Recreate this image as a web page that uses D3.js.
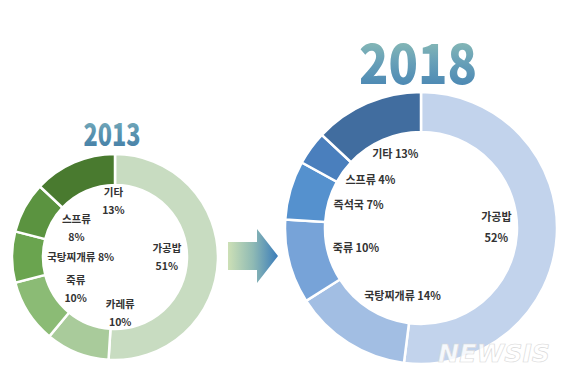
<!DOCTYPE html>
<head>
    <meta charset="utf-8">
    <style> body { margin: 0; background: #fff; } </style>
    <script src="https://d3js.org/d3.v7.min.js"></script>
</head>
<body>
<div id="chart"></div>
<script>

    // data
    var cats2013 = ["가공밥", "카레류", "죽류", "국탕찌개류", "스프류", "기타"];
    var vals2013 = [51, 10, 10, 8, 8, 13];
    var stack2013 = [true, true, true, false, true, true];

    var cats2018 = ["가공밥", "국탕찌개류", "죽류", "즉석국", "스프류", "기타"];
    var vals2018 = [52, 14, 10, 7, 4, 13];
    var stack2018 = [true, false, false, false, false, false];

    var years = ["2013", "2018"];

    // styles
    var greens = ["#c8dcc1", "#a9cb9b", "#8bbb75", "#6aa44f", "#5b9340", "#497a2f"];
    var blues = ["#c2d3ec", "#a2bee3", "#77a3d8", "#5591ce", "#4a7fbd", "#416d9f"];

    var W = 570, H = 380;

    var svg = d3.select("#chart").append("svg")
        .attr("width", W)
        .attr("height", H);

    var defs = svg.append("defs");

    function grad(id, stops, horiz) {
        var g = defs.append("linearGradient").attr("id", id)
            .attr("x1", 0).attr("y1", 0)
            .attr("x2", horiz ? 1 : 0).attr("y2", horiz ? 0 : 1);
        stops.forEach(function(s, i) {
            g.append("stop").attr("offset", (i / (stops.length - 1) * 100) + "%").attr("stop-color", s);
        });
    }
    grad("t13", ["#8cbcc2", "#5a94b0", "#3f78a4"], false);
    grad("t18", ["#a4d0b2", "#6aa2b8", "#3c7bb2"], false);
    grad("arr", ["#cde0b6", "#8fbab4", "#3a7cba"], true);

    function donut(cats, vals, stack, cols, cx, cy, R, r, year, titleSize, titleLen, fs, lineGap) {

        var g = svg.append("g").attr("transform", "translate(" + cx + "," + cy + ")");

        var pie = d3.pie().sort(null).value(function(d) { return d; });
        var arcs = pie(vals);

        var arc = d3.arc().innerRadius(r).outerRadius(R);

        g.selectAll("path.slice")
            .data(arcs)
            .enter()
            .append("path")
            .attr("class", "slice")
            .attr("d", arc)
            .attr("fill", function(d, i) { return cols[i]; })
            .attr("stroke", "#fff")
            .attr("stroke-width", 2.5);

        var lr = r * 0.84;

        arcs.forEach(function(d, i) {
            var a = Math.min((d.startAngle + d.endAngle) / 2, d.startAngle + Math.PI / 2);
            var x = lr * Math.sin(a), y = -lr * Math.cos(a);

            var t = g.append("text")
                .attr("text-anchor", "middle")
                .attr("font-family", "'Noto Sans CJK KR', 'Noto Sans', sans-serif")
                .attr("font-weight", "bold")
                .attr("font-size", fs)
                .attr("fill", "#333");

            var lines = stack[i] ? [cats[i], vals[i] + "%"] : [cats[i] + " " + vals[i] + "%"];
            lines.forEach(function(l, k) {
                t.append("tspan")
                    .attr("x", 0)
                    .attr("dy", k == 0 ? (-(lines.length - 1) * lineGap / 2 + fs * 0.35) : lineGap)
                    .text(l);
            });

            // keep the label inside the hole
            var bb = t.node().getBBox();
            var yy = Math.abs(y) + bb.height / 2 - 2;
            var lim = Math.sqrt(Math.max(r * r - yy * yy, 0)) - 4;
            if (Math.abs(x) + bb.width / 2 > lim) {
                x = Math.sign(x) * (lim - bb.width / 2);
            }
            t.attr("transform", "translate(" + x + "," + y + ")");
        });

        svg.append("text")
            .attr("x", cx - 3)
            .attr("y", cy - R - 8)
            .attr("text-anchor", "middle")
            .attr("font-family", "'Noto Sans CJK KR', 'Open Sans', sans-serif")
            .attr("font-weight", 900)
            .attr("font-size", titleSize)
            .attr("textLength", titleLen)
            .attr("lengthAdjust", "spacingAndGlyphs")
            .attr("fill", "url(#t" + year.slice(2) + ")")
            .text(year);
    }

    var c13 = { x: 115, y: 257, R: 103, r: 72 };
    var c18 = { x: 421, y: 228, R: 136, r: 96 };

    donut(cats2013, vals2013, stack2013, greens, c13.x, c13.y, c13.R, c13.r, years[0], 31, 57, 10.5, 18);
    donut(cats2018, vals2018, stack2018, blues, c18.x, c18.y, c18.R, c18.r, years[1], 55, 118, 11, 21);

    // arrow between the two rings
    var ax0 = c13.x + c13.R + 10, ax1 = c18.x - c18.R - 7, ay = 256;
    var bodyEnd = ax0 + (ax1 - ax0) * 0.58;
    svg.append("path")
        .attr("d", "M" + ax0 + "," + (ay - 14) +
                   "L" + bodyEnd + "," + (ay - 14) +
                   "L" + bodyEnd + "," + (ay - 27) +
                   "L" + ax1 + "," + ay +
                   "L" + bodyEnd + "," + (ay + 27) +
                   "L" + bodyEnd + "," + (ay + 14) +
                   "L" + ax0 + "," + (ay + 14) + "Z")
        .attr("fill", "url(#arr)");

    // watermark
    svg.append("text")
        .attr("x", 494)
        .attr("y", 362)
        .attr("text-anchor", "middle")
        .attr("font-family", "'DejaVu Sans', sans-serif")
        .attr("font-weight", "bold")
        .attr("font-style", "italic")
        .attr("font-size", 24)
        .attr("textLength", 112)
        .attr("lengthAdjust", "spacingAndGlyphs")
        .attr("fill", "#fff")
        .attr("fill-opacity", 0.85)
        .attr("stroke", "#d8d8d8")
        .attr("stroke-width", 0.6)
        .text("NEWSIS");

</script>
</body>
